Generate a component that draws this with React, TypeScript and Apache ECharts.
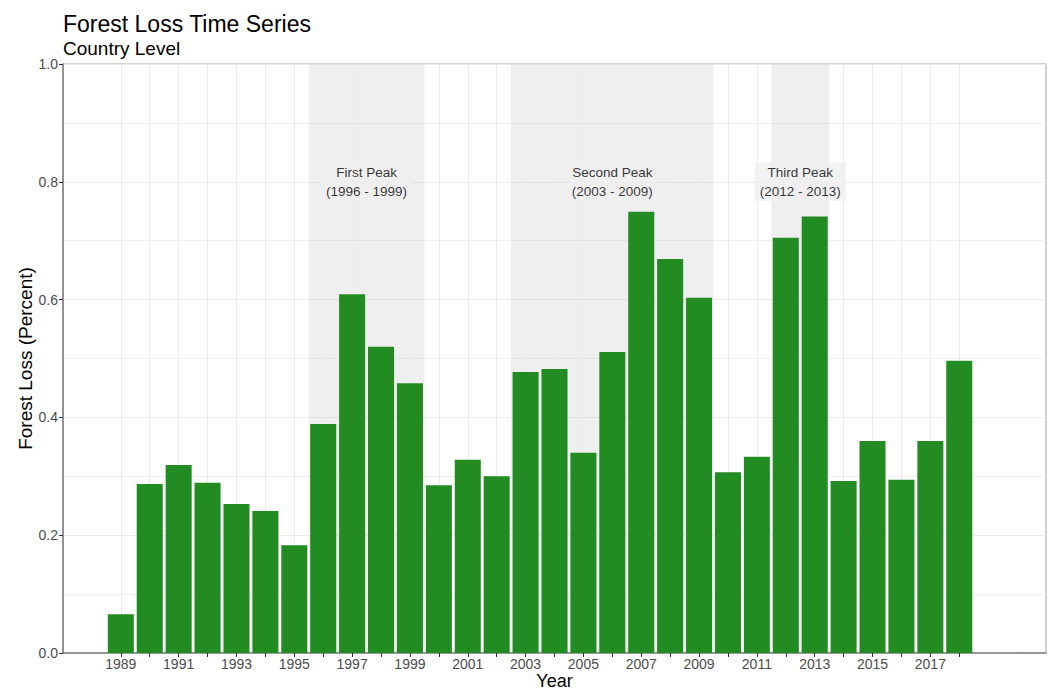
import React, { useEffect, useRef } from "react";
import * as echarts from "echarts";

const years = [
  1989, 1990, 1991, 1992, 1993, 1994, 1995, 1996, 1997, 1998, 1999, 2000, 2001, 2002, 2003,
  2004, 2005, 2006, 2007, 2008, 2009, 2010, 2011, 2012, 2013, 2014, 2015, 2016, 2017, 2018,
];
const lossValues = [
  0.066, 0.287, 0.319, 0.289, 0.253, 0.241, 0.183, 0.389, 0.609, 0.52, 0.458, 0.285, 0.328, 0.3,
  0.477, 0.482, 0.34, 0.511, 0.749, 0.669, 0.603, 0.307, 0.333, 0.705, 0.741, 0.292, 0.36, 0.294,
  0.36, 0.496,
];
const xLabelYears = [
  1989, 1991, 1993, 1995, 1997, 1999, 2001, 2003, 2005, 2007, 2009, 2011, 2013, 2015, 2017,
];
const yTicks = [0, 0.2, 0.4, 0.6, 0.8, 1.0];
const peakStarts = [1995.5, 2002.5, 2011.5];
const peakEnds = [1999.5, 2009.5, 2013.5];
const peakLabels = ["First Peak\n(1996 - 1999)", "Second Peak\n(2003 - 2009)", "Third Peak\n(2012 - 2013)"];
const peakLabelX = [1997.5, 2006, 2012.5];
const peakLabelY = [0.8, 0.8, 0.8];

export default function App() {
  const ref = useRef<HTMLDivElement>(null);
  useEffect(() => {
    if (!ref.current) return;
    const chart = echarts.init(ref.current, null, { renderer: "svg" });
    const font = "Liberation Sans, Arial, sans-serif";
    chart.setOption({
      animation: false,
      textStyle: { fontFamily: font },
      title: {
        text: "Forest Loss Time Series",
        subtext: "Country Level",
        left: 63,
        top: 12,
        padding: 0,
        itemGap: 4,
        textStyle: { fontSize: 23, color: "#000", fontWeight: "normal", fontFamily: font },
        subtextStyle: { fontSize: 19, color: "#000", fontFamily: font },
      },
      grid: {
        left: 63,
        right: 5,
        top: 64,
        bottom: 37,
        show: true,
        borderColor: "#a0a0a0",
        borderWidth: 1,
        backgroundColor: "transparent",
        outerBoundsMode: "none",
        containLabel: false,
      },
      xAxis: {
        type: "value",
        min: 1987,
        max: 2021,
        interval: 1,
        name: "Year",
        nameLocation: "middle",
        nameGap: 19,
        nameMoveOverlap: false,
        nameTextStyle: { fontSize: 18, color: "#000", fontFamily: font, lineHeight: 18 },
        axisLine: { show: true, onZero: false, lineStyle: { color: "#7f7f7f", width: 1.5 } },
        axisTick: { show: true, length: 4, customValues: years, lineStyle: { color: "#333" } },
        axisLabel: {
          customValues: xLabelYears,
          fontSize: 14,
          color: "#4d4d4d",
          margin: 4,
          formatter: (v: number) => (xLabelYears.indexOf(v) >= 0 ? String(v) : ""),
        },
        splitLine: { show: false },
      },
      yAxis: {
        type: "value",
        min: 0,
        max: 1,
        interval: 0.2,
        name: "Forest Loss (Percent)",
        nameLocation: "middle",
        nameGap: 28,
        nameMoveOverlap: false,
        nameTextStyle: { fontSize: 19, color: "#000", fontFamily: font },
        axisLine: { show: true, lineStyle: { color: "#7f7f7f", width: 1.5 } },
        axisTick: { show: true, length: 4, lineStyle: { color: "#333" } },
        axisLabel: {
          fontSize: 14,
          color: "#4d4d4d",
          margin: 5,
          formatter: (v: number) => (yTicks.some((t) => Math.abs(t - v) < 1e-9) ? v.toFixed(1) : ""),
        },
        splitLine: { show: true, lineStyle: { color: "#ebebeb", width: 1 } },
        minorTick: { show: false, splitNumber: 2 },
        minorSplitLine: { show: true, lineStyle: { color: "#f0f0f0", width: 1 } },
      },
      series: [
        {
          type: "line",
          data: [],
          z: 1,
          silent: true,
          markLine: {
            z: 1,
            silent: true,
            symbol: ["none", "none"],
            label: { show: false },
            lineStyle: { color: "#ebebeb", width: 1, type: "solid" },
            emphasis: { disabled: true },
            data: years.map((y) => ({ xAxis: y })),
          },
          markArea: {
            z: 0,
            silent: true,
            itemStyle: { color: "rgba(190,190,190,0.25)" },
            data: peakStarts.map((s, i) => [{ xAxis: s }, { xAxis: peakEnds[i] }]),
          },
        },
        {
          type: "bar",
          data: years.map((y, i) => [y, lossValues[i]]),
          barWidth: "90%",
          itemStyle: { color: "#228B22" },
          z: 3,
          silent: true,
        },
        {
          type: "scatter",
          data: peakLabelX.map((x, i) => ({ value: [x, peakLabelY[i]], name: peakLabels[i] })),
          symbolSize: 1,
          itemStyle: { color: "transparent" },
          z: 6,
          silent: true,
          label: {
            show: true,
            position: "inside",
            formatter: "{b}",
            fontSize: 13.5,
            color: "#000",
            lineHeight: 19,
            backgroundColor: "#efefef",
            padding: [0, 5],
            fontFamily: font,
          },
        },
      ],
    });
    return () => chart.dispose();
  }, []);
  return <div ref={ref} style={{ width: 1051, height: 690, position: "absolute", left: 0, top: 0 }} />;
}
